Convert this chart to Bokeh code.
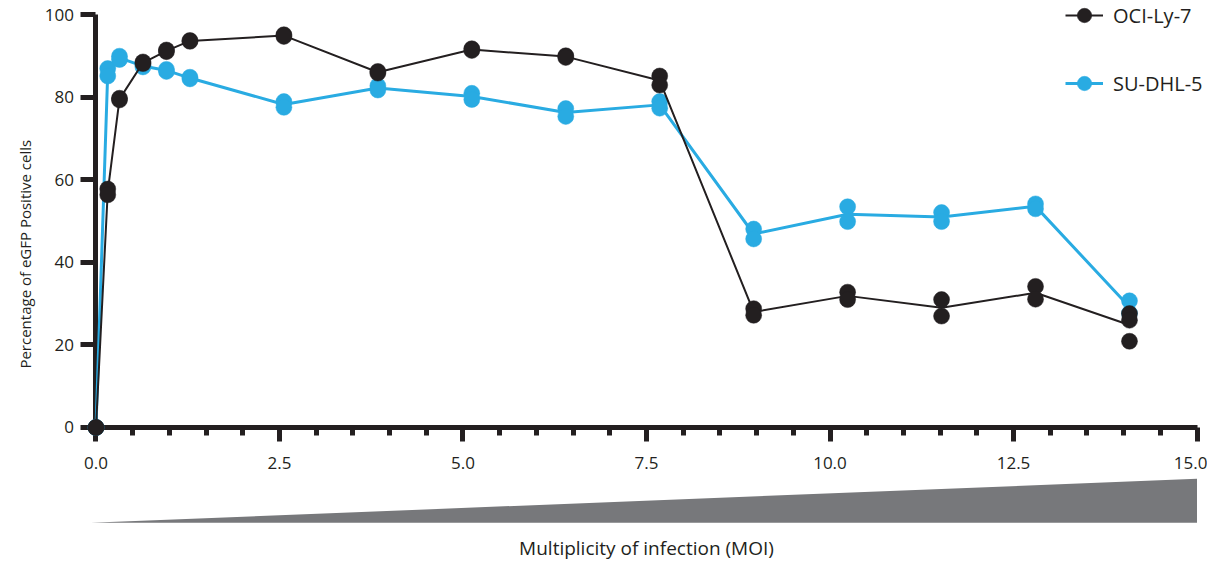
import math
import numpy as np
from bokeh.plotting import figure
from bokeh.models import Range1d, FixedTicker, PrintfTickFormatter, Legend, LegendItem, Label
from bokeh.embed import file_html
from bokeh.resources import INLINE

# ---------------- data ----------------
moi = [0, 0.16, 0.32, 0.64, 0.96, 1.28, 2.56, 3.84, 5.12, 6.4, 7.68,
       8.96, 10.24, 11.52, 12.8, 14.08]

# replicate measurements (% eGFP positive cells) at each MOI
oci_ly7 = [[0, 0], [57.8, 56.4], [79.8, 79.4], [88.6, 88.2], [91.5, 91.1],
           [93.8, 93.6], [95.2, 94.8], [86.3, 85.9], [91.8, 91.4], [90.1, 89.7],
           [85.2, 83.0], [28.8, 27.2], [32.8, 31.0], [31.0, 27.0], [34.2, 31.1],
           [27.6, 26.0, 20.9]]
su_dhl5 = [[0, 0], [87.0, 85.2], [90.0, 89.2], [87.8, 87.4], [86.8, 86.3],
           [84.9, 84.5], [79.0, 77.6], [82.8, 81.8], [81.0, 79.5], [77.3, 75.4],
           [79.0, 77.4], [48.1, 45.7], [53.5, 49.9], [52.1, 49.9], [54.2, 53.0],
           [30.7, 27.7]]

series_names = ["OCI-Ly-7", "SU-DHL-5"]
series_colors = ["#231f20", "#29abe2"]

y_ticks = [0, 20, 40, 60, 80, 100]
x_ticks = [0, 2.5, 5, 7.5, 10, 12.5, 15]
x_minor_ticks = [0.5, 1, 1.5, 2, 3, 3.5, 4, 4.5, 5.5, 6, 6.5, 7, 8, 8.5, 9, 9.5,
                 10.5, 11, 11.5, 12, 13, 13.5, 14, 14.5]

y_title = "Percentage of eGFP Positive cells"
x_title = "Multiplicity of infection (MOI)"

# increasing-MOI wedge below the axis
ramp_x = [-0.07, 15.0, 15.0]
ramp_y = [-23.1, -23.1, -12.45]

INK = "#231f20"
FONT = "Open Sans"

# ---------------- figure ----------------
p = figure(width=1207, height=562, output_backend="svg", toolbar_location=None,
           x_range=Range1d(-1.301, 15.143), y_range=Range1d(-32.73, 103.5),
           min_border=0)
p.outline_line_color = None
p.grid.visible = False
p.background_fill_color = "white"

# wedge
p.patch(ramp_x, ramp_y, fill_color="#77787b", line_color=None)


def flat(xs, reps):
    fx, fy = [], []
    for x, r in zip(xs, reps):
        for v in r:
            fx.append(x)
            fy.append(v)
    return fx, fy


renderers = {}
for name, reps, color, lw in [("SU-DHL-5", su_dhl5, series_colors[1], 3),
                              ("OCI-Ly-7", oci_ly7, series_colors[0], 2)]:
    means = [float(np.mean(r)) for r in reps]
    ln = p.line(moi, means, line_color=color, line_width=lw)
    fx, fy = flat(moi, reps)
    sc = p.scatter(fx, fy, size=16, fill_color=color, line_color=color, line_width=0.5)
    renderers[name] = [ln, sc]

# ---------------- axes ----------------
ax = p.xaxis[0]
ax.fixed_location = 0
ax.bounds = (0, 15)
ax.ticker = FixedTicker(ticks=x_ticks, minor_ticks=x_minor_ticks)
ax.formatter = PrintfTickFormatter(format="%.1f")
ax.axis_line_width = 5
ax.axis_line_color = INK
ax.major_tick_line_width = 5
ax.major_tick_line_color = INK
ax.major_tick_out = 14
ax.major_tick_in = 0
ax.minor_tick_line_width = 5
ax.minor_tick_line_color = INK
ax.minor_tick_out = 8
ax.minor_tick_in = 0
ax.major_label_text_font = FONT
ax.major_label_text_font_size = "17px"
ax.major_label_text_color = INK
ax.major_label_standoff = 16
ax.axis_label = x_title
ax.axis_label_standoff = 62
ax.axis_label_text_font = FONT
ax.axis_label_text_font_style = "normal"
ax.axis_label_text_font_size = "19px"
ax.axis_label_text_color = INK
ax.level = "underlay"

ay = p.yaxis[0]
ay.fixed_location = 0
ay.bounds = (0, 100)
ay.ticker = FixedTicker(ticks=y_ticks, minor_ticks=[])
ay.axis_line_width = 5
ay.axis_line_color = INK
ay.major_tick_line_width = 5
ay.major_tick_line_color = INK
ay.major_tick_out = 15
ay.major_tick_in = 0
ay.minor_tick_out = 0
ay.minor_tick_in = 0
ay.major_label_text_font = FONT
ay.major_label_text_font_size = "17px"
ay.major_label_text_color = INK
ay.major_label_standoff = 7
ay.level = "underlay"

# y-axis title (placed lower than the axis midpoint, as in the original)
p.add_layout(Label(x=-0.974, y=42, text=y_title, angle=math.pi / 2,
                   text_align="center", text_baseline="middle",
                   text_font=FONT, text_font_size="15px", text_color=INK))

# ---------------- legend ----------------
legend = Legend(
    items=[LegendItem(label=series_names[0], renderers=renderers["OCI-Ly-7"]),
           LegendItem(label=series_names[1], renderers=renderers["SU-DHL-5"])],
    location=(1065, 461), glyph_width=38, glyph_height=36, spacing=32,
    padding=0, margin=0, label_standoff=10,
    label_text_font=FONT, label_text_font_size="20px", label_text_color=INK,
    border_line_color=None, background_fill_alpha=0,
)
p.add_layout(legend)

open("out.html", "w").write(file_html(p, INLINE))
